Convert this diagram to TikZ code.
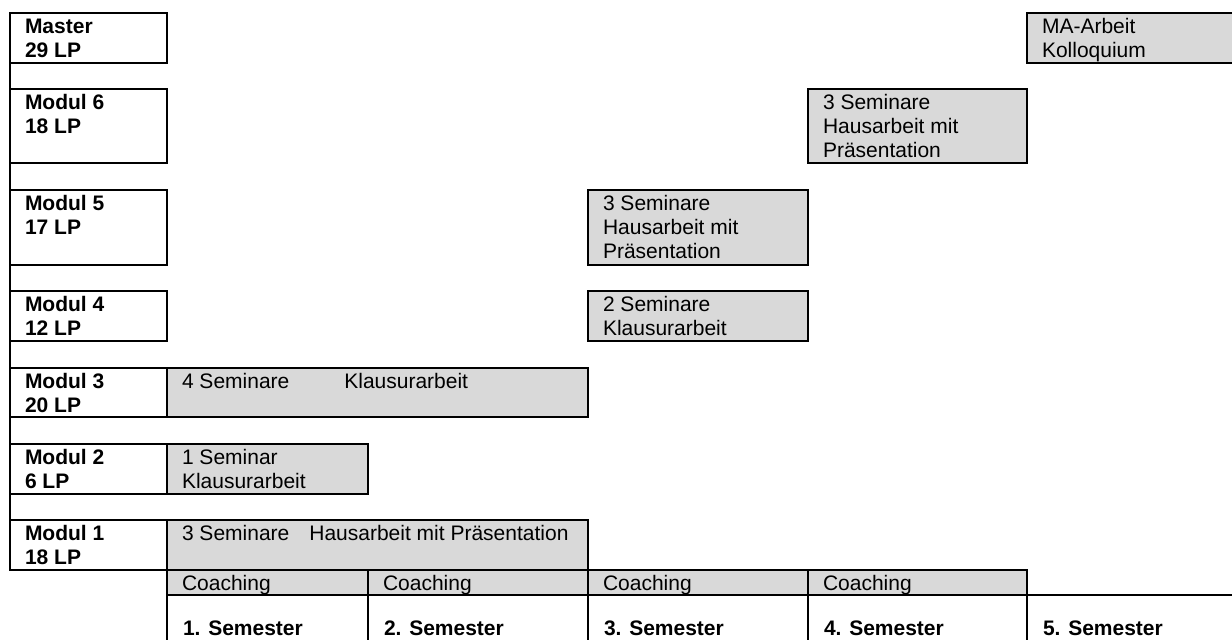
\documentclass[tikz,border=0pt]{standalone}
\usepackage{fontspec}
\setmainfont{Liberation Sans}
\definecolor{boxgray}{RGB}{217,217,217}
\newcommand\lbfont{\fontsize{21pt}{24pt}\selectfont}
\tikzset{
  cellframe/.style={draw, line width=2pt, anchor=north west, inner sep=0pt, outer sep=0pt},
  modframe/.style={cellframe, fill=white},
  grayframe/.style={cellframe, fill=boxgray},
  lbl/.style={anchor=north west, inner sep=0pt, outer sep=0pt, align=left, font=\lbfont},
  lblb/.style={lbl, font=\lbfont\bfseries},
}
\newcommand\cellbox[8]{%
  \node[#2, minimum width={#6-#4}, minimum height={#7-#5}] (#1) at (#4,#5) {};
  \node[#3] (#1t) at (#4+15,#5) {\rule{0pt}{20pt}#8};
}
\begin{document}
\begin{tikzpicture}[x=1pt,y=-1pt]
\useasboundingbox (0,0) rectangle (1232,640);
% module label boxes
\cellbox{m0}{modframe}{lblb}{10}{13}{167}{63}{Master\\29 LP}
\cellbox{m6}{modframe}{lblb}{10}{89}{167}{163}{Modul 6\\18 LP}
\cellbox{m5}{modframe}{lblb}{10}{190}{167}{265}{Modul 5\\17 LP}
\cellbox{m4}{modframe}{lblb}{10}{291}{167}{341}{Modul 4\\12 LP}
\cellbox{m3}{modframe}{lblb}{10}{368}{167}{417}{Modul 3\\20 LP}
\cellbox{m2}{modframe}{lblb}{10}{444}{167}{494}{Modul 2\\6 LP}
\cellbox{m1}{modframe}{lblb}{10}{520}{167}{570}{Modul 1\\18 LP}
\draw[line width=2pt] (m0.north west) -- (m1.south west);
% gray content boxes
\cellbox{g0}{grayframe}{lbl}{1027}{13}{1240}{63}{MA-Arbeit\\Kolloquium}
\cellbox{g6}{grayframe}{lbl}{808}{89}{1027}{163}{3 Seminare\\Hausarbeit mit\\Präsentation}
\cellbox{g5}{grayframe}{lbl}{588}{190}{808}{265}{3 Seminare\\Hausarbeit mit\\Präsentation}
\cellbox{g4}{grayframe}{lbl}{588}{291}{808}{341}{2 Seminare\\Klausurarbeit}
\cellbox{g3}{grayframe}{lbl}{167}{368}{588}{417}{4 Seminare\hspace{55pt}Klausurarbeit}
\cellbox{g2}{grayframe}{lbl}{167}{444}{368}{494}{1 Seminar\\Klausurarbeit}
\cellbox{g1}{grayframe}{lbl}{167}{520}{588}{570}{3 Seminare\hspace{20pt}Hausarbeit mit Präsentation}
% coaching row
\cellbox{c1}{grayframe}{lbl}{167}{570}{368}{595}{Coaching}
\cellbox{c2}{grayframe}{lbl}{368}{570}{588}{595}{Coaching}
\cellbox{c3}{grayframe}{lbl}{588}{570}{808}{595}{Coaching}
\cellbox{c4}{grayframe}{lbl}{808}{570}{1027}{595}{Coaching}
% semester row
\node[cellframe, minimum width=201, minimum height=70] (s1) at (167,595) {};
\node[cellframe, minimum width=220, minimum height=70] (s2) at (368,595) {};
\node[cellframe, minimum width=220, minimum height=70] (s3) at (588,595) {};
\node[cellframe, minimum width=219, minimum height=70] (s4) at (808,595) {};
\node[cellframe, minimum width=213, minimum height=70] (s5) at (1027,595) {};
\node[lblb, anchor=base west] (s1t) at (183,635) {1. Semester};
\node[lblb, anchor=base west] (s2t) at (384,635) {2. Semester};
\node[lblb, anchor=base west] (s3t) at (604,635) {3. Semester};
\node[lblb, anchor=base west] (s4t) at (824,635) {4. Semester};
\node[lblb, anchor=base west] (s5t) at (1043,635) {5. Semester};
\end{tikzpicture}
\end{document}
